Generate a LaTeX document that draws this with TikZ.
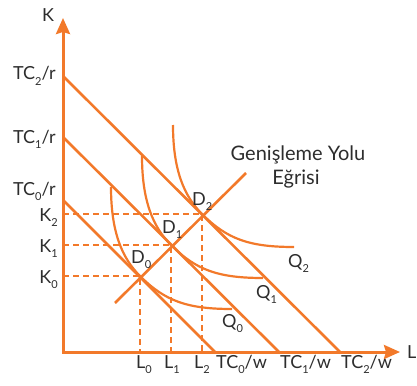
\documentclass[tikz,border=0pt]{standalone}
\usepackage{fontspec}
\setmainfont{Lato}
\usetikzlibrary{arrows.meta}
\definecolor{org}{RGB}{242,121,42}
\definecolor{txt}{RGB}{45,45,45}
\newcommand\sbs[1]{\raisebox{-0.32em}{\fontsize{11}{11}\selectfont #1}}
\begin{document}
\begin{tikzpicture}[x=1pt,y=-1pt,
  axis/.style={org, line width=3pt, line join=miter, {Stealth[length=16pt,width=14pt,inset=2pt]}-{Stealth[length=16pt,width=14pt,inset=2pt]}},
  budget/.style={org, line width=2.6pt},
  iso/.style={org, line width=2.2pt},
  guide/.style={org, line width=1.8pt, dash pattern=on 6pt off 4pt},
  lbl/.style={txt, inner sep=0pt, font=\fontsize{18}{18}\selectfont},
  big/.style={txt, inner sep=0pt, font=\fontsize{20}{20}\selectfont},
]
\useasboundingbox (0,0) rectangle (417,385);
% key points
\coordinate (O) at (63,352);
\coordinate (Ktip) at (63,18);
\coordinate (Ltip) at (400,352);
\coordinate (TC0r) at (63,200);
\coordinate (TC1r) at (63,137);
\coordinate (TC2r) at (63,76);
\coordinate (TC0w) at (215,352);
\coordinate (TC1w) at (279,352);
\coordinate (TC2w) at (340,352);
\coordinate (D0) at (140,276);
\coordinate (D1) at (171,245);
\coordinate (D2) at (202,214);
\coordinate (E0) at (115,303);
\coordinate (E1) at (246,173);
% dashed guides
\foreach \d in {D0,D1,D2}{
  \draw[guide] (O |- \d) -- (\d) -- (\d |- O);
}
% budget lines
\draw[budget] (TC0r) -- (TC0w);
\draw[budget] (TC1r) -- (TC1w);
\draw[budget] (TC2r) -- (TC2w);
% expansion path
\draw[budget] (E0) -- (E1);
% isoquants (same shape, tangent to budget line at each D)
\foreach \d in {D0,D1,D2}{
  \draw[iso, shift={(\d)}] (-29,-89) .. controls (-29,-44) and (-18,-18) .. (0,0)
        .. controls (25,25) and (47,33) .. (92,33);
}
% axes
\draw[axis] (Ktip) -- (O) -- (Ltip);
% axis labels
\node[lbl, anchor=base west] (Klab) at (42,22) {K};
\node[lbl, anchor=base west] (Llab) at (407,358) {L};
% vertical labels
\node[lbl, anchor=base east] (lTC2r) at (56,80) {TC\sbs{2}/r};
\node[lbl, anchor=base east] (lTC1r) at (56,143) {TC\sbs{1}/r};
\node[lbl, anchor=base east] (lTC0r) at (56,195) {TC\sbs{0}/r};
\node[lbl, anchor=base east] (lK2) at (58,221) {K\sbs{2}};
\node[lbl, anchor=base east] (lK1) at (58,252) {K\sbs{1}};
\node[lbl, anchor=base east] (lK0) at (58,283) {K\sbs{0}};
% horizontal labels
\node[lbl, anchor=base west] (lL0) at (136,368) {L\sbs{0}};
\node[lbl, anchor=base west] (lL1) at (164,368) {L\sbs{1}};
\node[lbl, anchor=base west] (lL2) at (194,368) {L\sbs{2}};
\node[lbl, anchor=base west] (lTC0w) at (216,368) {TC\sbs{0}/w};
\node[lbl, anchor=base west] (lTC1w) at (280,368) {TC\sbs{1}/w};
\node[lbl, anchor=base west] (lTC2w) at (341,368) {TC\sbs{2}/w};
% point labels
\node[lbl, anchor=base west] (lD0) at (131,263) {D\sbs{0}};
\node[lbl, anchor=base west] (lD1) at (162,233) {D\sbs{1}};
\node[lbl, anchor=base west] (lD2) at (192,205) {D\sbs{2}};
% isoquant labels
\node[lbl, anchor=base west] (lQ0) at (222,327) {Q\sbs{0}};
\node[lbl, anchor=base west] (lQ1) at (256,298) {Q\sbs{1}};
\node[lbl, anchor=base west] (lQ2) at (288,267) {Q\sbs{2}};
% expansion path label
\node[big, anchor=base] (lG1) at (298,160) {Genişleme Yolu};
\node[big, anchor=base] (lG2) at (296,184) {Eğrisi};
\end{tikzpicture}
\end{document}
